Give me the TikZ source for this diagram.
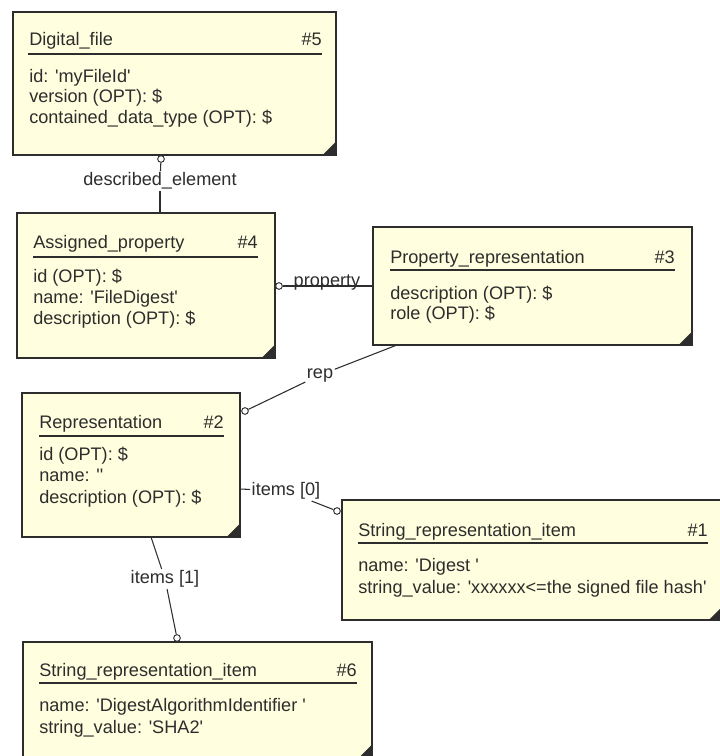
\documentclass[tikz,border=0pt]{standalone}
\usepackage{fontspec}
\setmainfont{Liberation Sans}
\usetikzlibrary{fit}

\definecolor{notepaper}{RGB}{255,254,222}
\definecolor{inkgray}{RGB}{45,45,45}
\newcommand{\sq}{\textquotesingle}

\begin{document}
\begin{tikzpicture}[x=0.75pt, y=-0.75pt,
    entity/.style={draw=inkgray, line width=1.3pt, fill=notepaper, inner sep=0pt},
    txt/.style={font=\fontsize{13.6}{15}\selectfont, text=inkgray, inner sep=0pt, anchor=base west},
    num/.style={txt, anchor=base east},
    rule/.style={draw=inkgray, line width=1.3pt},
    link/.style={draw=inkgray, line width=0.8pt},
    hollow/.style={circle, draw=inkgray, fill=white, line width=0.7pt, minimum size=5pt, inner sep=0pt},
    role/.style={txt, anchor=center, fill=white, inner sep=1pt}]

    \useasboundingbox (0,0) rectangle (719,756);

    % entity boxes
    \node[entity, fit={(13,12) (336,155)}] (file) {};
    \node[entity, fit={(17,213) (275,358)}] (prop) {};
    \node[entity, fit={(373,227) (692,345)}] (prep) {};
    \node[entity, fit={(22,393) (240,537)}] (rep) {};
    \node[entity, fit={(342,500) (722,620)}] (item0) {};
    \node[entity, fit={(23,642) (372,758)}] (item1) {};

    \foreach \b in {file,prop,prep,rep,item0,item1}
        \fill[inkgray] (\b.south east) -- ++(-15,0) -- ++(15,-15) -- cycle;

    % #5
    \node[txt] (fileT) at (29,46) {Digital\_file};
    \node[num] at (322,46) {\#5};
    \draw[rule] (28,54) -- (322,54);
    \node[txt] at (29,83) {id: \sq myFileId\sq};
    \node[txt] at (29,103) {version (OPT): \$};
    \node[txt] at (29,124) {contained\_data\_type (OPT): \$};

    % #4
    \node[txt] (propT) at (33,248) {Assigned\_property};
    \node[num] at (258,248) {\#4};
    \draw[rule] (33,257) -- (258,257);
    \node[txt] at (33,282) {id (OPT): \$};
    \node[txt] at (33,303) {name: \sq FileDigest\sq};
    \node[txt] at (33,324) {description (OPT): \$};

    % #3
    \node[txt] (prepT) at (390,263) {Property\_representation};
    \node[num] at (675,263) {\#3};
    \draw[rule] (390,270) -- (675,270);
    \node[txt] at (390,299) {description (OPT): \$};
    \node[txt] at (390,319) {role (OPT): \$};

    % #2
    \node[txt] (repT) at (39,428) {Representation};
    \node[num] at (224,428) {\#2};
    \draw[rule] (39,436) -- (224,436);
    \node[txt] at (39,460) {id (OPT): \$};
    \node[txt] at (39,481) {name: \sq\sq};
    \node[txt] at (39,503) {description (OPT): \$};

    % #1
    \node[txt] (item0T) at (358,536) {String\_representation\_item};
    \node[num] at (708,536) {\#1};
    \draw[rule] (358,543) -- (708,543);
    \node[txt] at (358,571) {name: \sq Digest \sq};
    \node[txt] at (358,593) {string\_value: \sq xxxxxx<=the signed file hash\sq};

    % #6
    \node[txt] (item1T) at (39,676) {String\_representation\_item};
    \node[num] at (357,676) {\#6};
    \draw[rule] (39,683) -- (357,683);
    \node[txt] at (39,711) {name: \sq DigestAlgorithmIdentifier \sq};
    \node[txt] at (39,733) {string\_value: \sq SHA2\sq};

    % relations
    \node[role] (descL) at (160,181) {described\_element};
    \node[hollow] (c1) at (161,159) {};
    \draw[link] (c1) -- (descL);
    \draw[link] (descL) -- (descL |- prop.north);

    \node[hollow] (c2) at (279,286) {};
    \draw[link] (c2) -- (c2 -| prep.west);
    \node[txt, anchor=base] (propL) at (327,286) {property};

    \coordinate (p3) at (397,345);
    \node[hollow] (c3) at (245,411) {};
    \node[role] (repL) at (320,375) {rep};
    \draw[link] (p3) -- (repL) -- (c3);

    \coordinate (r0) at (240,489);
    \node[hollow] (c4) at (337,511) {};
    \node[role] (it0L) at (286,491) {items [0]};
    \draw[link] (r0) -- (it0L) -- (c4);

    \coordinate (r1) at (151,537);
    \node[hollow] (c5) at (177,638) {};
    \node[role] (it1L) at (165,579) {items [1]};
    \draw[link] (r1) -- (it1L) -- (c5);
\end{tikzpicture}
\end{document}
